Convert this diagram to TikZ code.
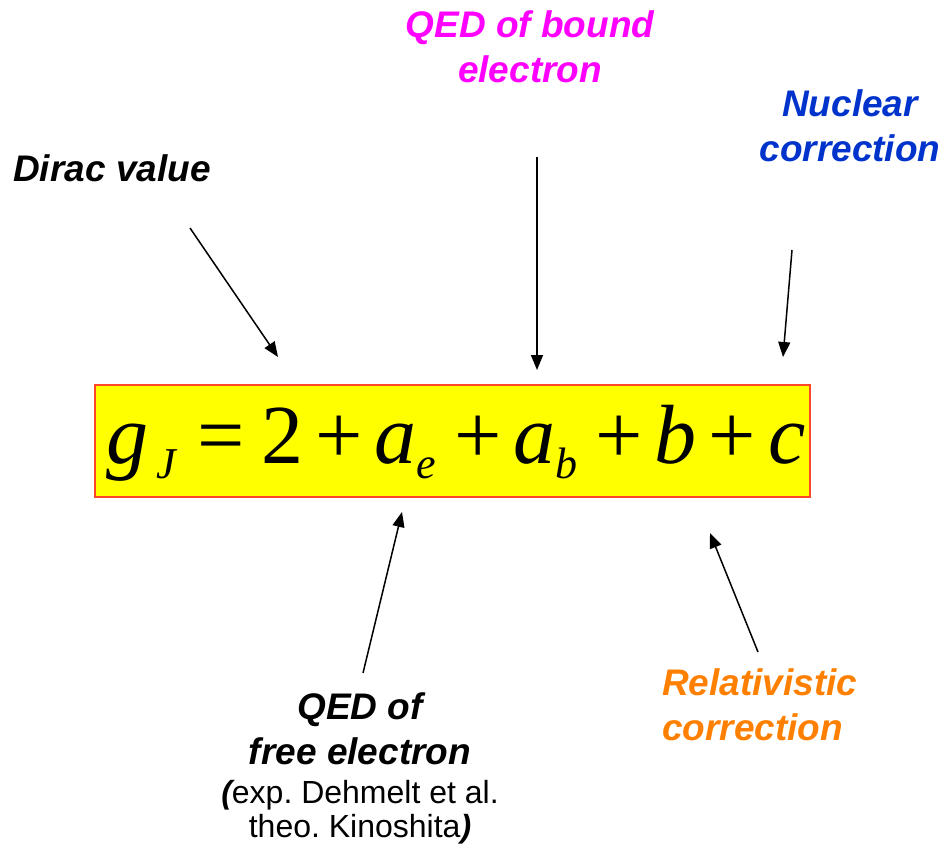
\documentclass[tikz,border=0pt]{standalone}
\usepackage{fontspec}
\setmainfont{Liberation Sans}
\newfontfamily\tms{Liberation Serif}
\usetikzlibrary{arrows.meta}
\frenchspacing
\definecolor{boxfill}{RGB}{255,255,0}
\definecolor{boxline}{RGB}{255,70,40}
\definecolor{qedb}{RGB}{255,0,255}
\definecolor{nucl}{RGB}{0,51,204}
\definecolor{relc}{RGB}{255,128,0}
\newcommand\sbs[1]{\raisebox{-15pt}{\fontsize{44}{44}\selectfont\itshape #1}}
\newcommand\gp[1]{\hspace{#1pt}}
\newcommand\smallfnt{\fontsize{32}{34}\selectfont\mdseries\upshape}
\begin{document}
\begin{tikzpicture}[x=1pt,y=-1pt,
  lbl/.style={font=\fontsize{37}{45}\selectfont\bfseries\itshape, inner sep=0pt, align=center},
  arr/.style={line width=1.5pt, -{Triangle[length=15pt,width=12pt]}}]
\useasboundingbox (0,0) rectangle (945,848);
\node[draw=boxline, line width=1.5pt, fill=boxfill, minimum width=715pt, minimum height=112pt, inner sep=0pt] (eq) at (452.5,441) {};
\node[anchor=base west, inner sep=0pt] (eqt) at (106,463) {\tms\fontsize{84}{84}\selectfont\itshape g\gp{8}\sbs{J}\gp{22}\upshape =\gp{16}2\gp{12}+\gp{12}\itshape a\sbs{e}\gp{18}\upshape +\gp{12}\itshape a\sbs{b}\gp{18}\upshape +\gp{12}\itshape b\gp{12}\upshape +\gp{12}\itshape c};
\node[lbl] (dirac) at (112,168) {Dirac value};
\node[lbl, text=qedb] (qedb) at (530,47) {QED of bound\\electron};
\node[lbl, text=nucl] (nuc) at (850,126) {Nuclear\\correction};
\node[lbl, text=relc, align=left, anchor=west] (rel) at (662,705) {Relativistic\\correction};
\node[lbl, anchor=north] (qedf) at (360,692) {QED of\\free electron\\[-6pt]\smallfnt\frenchspacing{\bfseries\itshape(}exp. Dehmelt et al.\\[-11pt]\smallfnt\frenchspacing theo. Kinoshita{\bfseries\itshape)}};
\coordinate (d1) at (190,228); \coordinate (d2) at (278,357);
\coordinate (q1) at (537,157); \coordinate (q2) at (537,370);
\coordinate (n1) at (792,250); \coordinate (n2) at (783,357);
\coordinate (f1) at (363,673); \coordinate (f2) at (402,512);
\coordinate (r1) at (758,652); \coordinate (r2) at (710,533);
\draw[arr] (d1) -- (d2);
\draw[arr] (q1) -- (q2);
\draw[arr] (n1) -- (n2);
\draw[arr] (f1) -- (f2);
\draw[arr] (r1) -- (r2);
\end{tikzpicture}
\end{document}
